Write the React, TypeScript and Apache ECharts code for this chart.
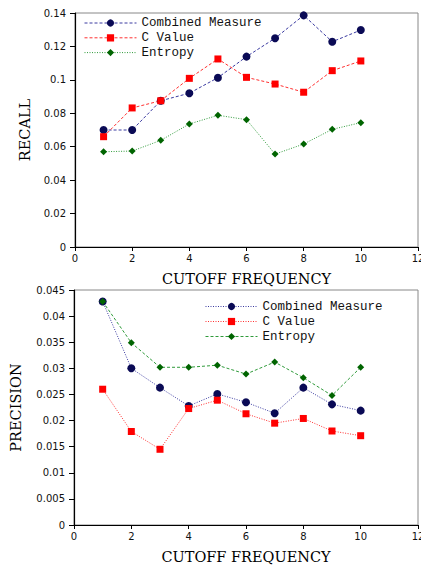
import React, { useEffect, useRef } from "react";
import * as echarts from "echarts";

const cutoff = [1, 2, 3, 4, 5, 6, 7, 8, 9, 10];

const recallCombined = [0.07, 0.07, 0.0875, 0.092, 0.1013, 0.1139, 0.1249, 0.1386, 0.1228, 0.1298];
const recallCValue = [0.066, 0.0832, 0.0875, 0.1009, 0.1125, 0.1015, 0.0975, 0.0926, 0.1055, 0.1113];
const recallEntropy = [0.057, 0.0574, 0.0638, 0.0736, 0.0788, 0.0762, 0.0556, 0.0616, 0.0704, 0.0744];

const precCombined = [0.0428, 0.03, 0.0263, 0.0228, 0.0251, 0.0235, 0.0214, 0.0263, 0.0231, 0.0219];
const precCValue = [0.026, 0.0179, 0.0145, 0.0223, 0.0239, 0.0213, 0.0195, 0.0204, 0.018, 0.0171];
const precEntropy = [0.0428, 0.0349, 0.0302, 0.0302, 0.0306, 0.0289, 0.0312, 0.0282, 0.0248, 0.0302];

const seriesNames = ["Combined Measure", "C Value", "Entropy"];

const NAVY = "#0a0a55";
const NAVY_LINE = "#3a3aa0";
const RED = "#ff0000";
const RED_LINE = "#ff3030";
const GREEN = "#006400";
const GREEN_LINE = "#2f9a3a";

const pair = (ys: number[]) => cutoff.map((x, i) => [x, ys[i]]);

const mono = "'Liberation Mono', 'DejaVu Sans Mono', monospace";
const serif = "'DejaVu Serif', 'Liberation Serif', serif";
const sans = "'DejaVu Sans', sans-serif";

function makeSeries(
  idx: number,
  data: number[][],
  name: string,
  color: string,
  lineColor: string,
  symbol: string,
  size: number,
  dash: number[]
) {
  return {
    type: "line",
    name,
    xAxisIndex: idx,
    yAxisIndex: idx,
    data,
    symbol,
    symbolSize: size,
    itemStyle: { color },
    lineStyle: { color: lineColor, width: 1, type: dash },
    emphasis: { disabled: true },
  };
}

export default function App() {
  const ref = useRef<HTMLDivElement>(null);
  useEffect(() => {
    if (!ref.current) return;
    const chart = echarts.init(ref.current, undefined, { renderer: "svg" });
    const titleStyle = { fontFamily: serif, fontSize: 14.5, color: "#000" };
    const xAxisBase = (gridIndex: number) => ({
      type: "value",
      gridIndex,
      min: 0,
      max: 12,
      interval: 2,
      name: "CUTOFF FREQUENCY",
      nameLocation: "middle",
      nameGap: 24,
      nameTextStyle: titleStyle,
      axisLine: { show: true, lineStyle: { color: "#000", width: 1.2 } },
      axisTick: { show: true, length: 4, lineStyle: { color: "#000" } },
      axisLabel: { fontFamily: sans, fontSize: 10, color: "#111", margin: 6 },
      splitLine: { show: false },
    });
    const dashed = [3, 2];
    const dotted = [1, 1.5];
    const lineColors = [NAVY_LINE, RED_LINE, GREEN_LINE];
    const legendData = (types: number[][]) =>
      seriesNames.map((name, i) => ({
        name,
        lineStyle: { type: types[i], color: lineColors[i], width: 1 },
      }));
    const legendBase = {
      orient: "vertical",
      padding: 0,
      itemWidth: 52,
      itemHeight: 9,
      textStyle: { fontFamily: mono, fontSize: 12.5, color: "#111", lineHeight: 13 },
      selectedMode: false,
    };
    const option = {
      animation: false,
      backgroundColor: "#fff",
      grid: [
        { left: 75, top: 13, width: 343, height: 234, show: true, borderColor: "#888", borderWidth: 1, outerBoundsMode: "none", containLabel: false },
        { left: 74, top: 290, width: 344, height: 235, show: true, borderColor: "#888", borderWidth: 1, outerBoundsMode: "none", containLabel: false },
      ],
      legend: [
        { ...legendBase, data: legendData([dashed, dashed, dotted]), left: 84, top: 16.5, itemGap: 1.8 },
        { ...legendBase, data: legendData([dotted, dotted, dashed]), left: 205, top: 300, itemGap: 2 },
      ],
      xAxis: [xAxisBase(0), xAxisBase(1)],
      yAxis: [
        {
          type: "value",
          gridIndex: 0,
          min: 0,
          max: 0.14,
          interval: 0.02,
          name: "RECALL",
          nameLocation: "middle",
          nameGap: 43,
          nameTextStyle: titleStyle,
          axisLine: { show: true, lineStyle: { color: "#000", width: 1.2 } },
          axisTick: { show: true, length: 5, lineStyle: { color: "#000" } },
          axisLabel: { fontFamily: sans, fontSize: 10, color: "#111", margin: 9 },
          splitLine: { show: false },
        },
        {
          type: "value",
          gridIndex: 1,
          min: 0,
          max: 0.045,
          interval: 0.005,
          name: "PRECISION",
          nameLocation: "middle",
          nameGap: 51,
          nameTextStyle: titleStyle,
          axisLine: { show: true, lineStyle: { color: "#000", width: 1.2 } },
          axisTick: { show: true, length: 5, lineStyle: { color: "#000" } },
          axisLabel: { fontFamily: sans, fontSize: 10, color: "#111", margin: 9 },
          splitLine: { show: false },
        },
      ],
      series: [
        makeSeries(0, pair(recallCombined), seriesNames[0], NAVY, NAVY_LINE, "circle", 8, dashed),
        makeSeries(0, pair(recallCValue), seriesNames[1], RED, RED_LINE, "rect", 7, dashed),
        makeSeries(0, pair(recallEntropy), seriesNames[2], GREEN, GREEN_LINE, "diamond", 7, dotted),
        makeSeries(1, pair(precCombined), seriesNames[0], NAVY, NAVY_LINE, "circle", 8, dotted),
        makeSeries(1, pair(precCValue), seriesNames[1], RED, RED_LINE, "rect", 7, dotted),
        makeSeries(1, pair(precEntropy), seriesNames[2], GREEN, GREEN_LINE, "diamond", 7, dashed),
      ],
    };
    chart.setOption(option as any);
    return () => chart.dispose();
  }, []);
  return (
    <div
      ref={ref}
      style={{ position: "fixed", left: 0, top: 0, width: 421, height: 566, background: "#fff" }}
    />
  );
}
